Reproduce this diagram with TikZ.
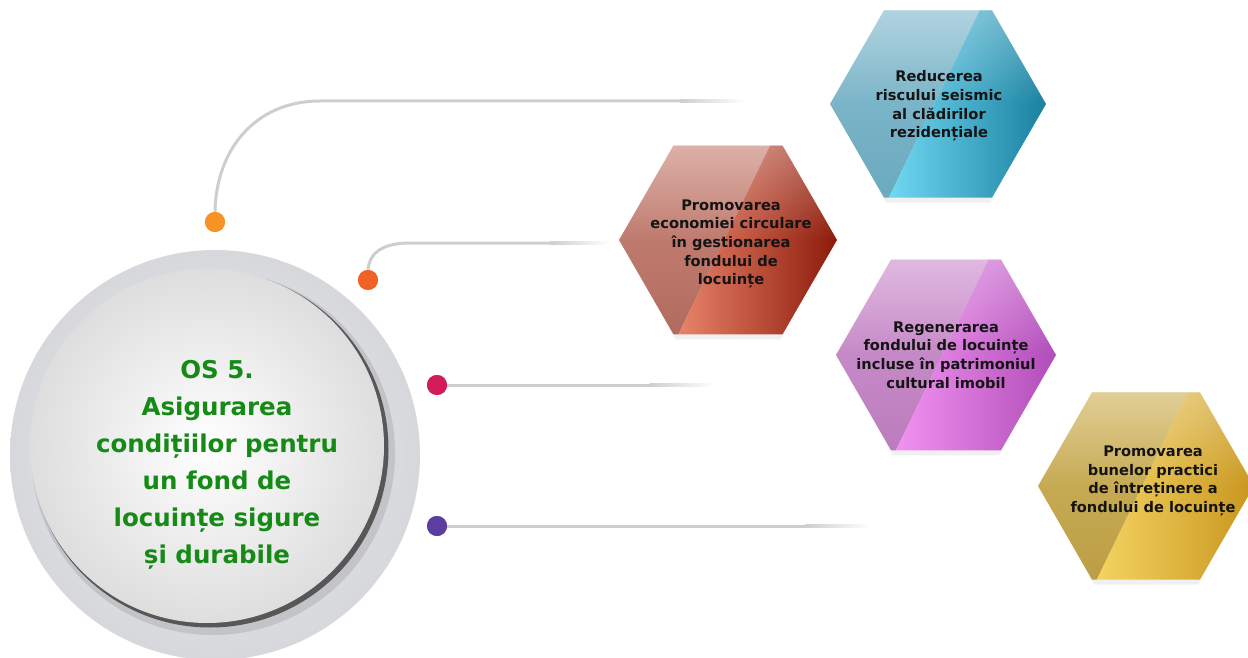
\documentclass[tikz,border=0pt]{standalone}
\usepackage{fontspec}
\setmainfont{DejaVu Sans}
\usetikzlibrary{fadings}
\definecolor{osgreen}{RGB}{22,138,22}
\definecolor{lineclr}{RGB}{206,206,206}
\definecolor{dotA}{RGB}{247,146,36}
\definecolor{dotB}{RGB}{240,98,38}
\definecolor{dotC}{RGB}{210,28,88}
\definecolor{dotD}{RGB}{92,62,160}
\definecolor{ringin}{RGB}{234,235,238}
\definecolor{ringout}{RGB}{214,216,220}
% hexagon colours
\definecolor{bLt}{RGB}{140,192,210}\definecolor{bLb}{RGB}{104,168,190}
\definecolor{bRl}{RGB}{116,220,245}\definecolor{bRr}{RGB}{26,128,160}
\definecolor{sLt}{RGB}{206,140,128}\definecolor{sLb}{RGB}{176,104,92}
\definecolor{sRl}{RGB}{236,136,110}\definecolor{sRr}{RGB}{140,26,10}
\definecolor{pLt}{RGB}{210,152,210}\definecolor{pLb}{RGB}{186,122,188}
\definecolor{pRl}{RGB}{244,150,244}\definecolor{pRr}{RGB}{176,76,184}
\definecolor{gLt}{RGB}{210,184,100}\definecolor{gLb}{RGB}{186,156,66}
\definecolor{gRl}{RGB}{246,214,100}\definecolor{gRr}{RGB}{200,150,30}
\tikzfading[name=glossfade, top color=transparent!62, bottom color=transparent!100]
\tikzset{
  dot/.style={circle, minimum size=20pt, inner sep=0pt, draw=none},
  conn/.style={draw=lineclr, line width=3pt, line cap=butt},
  centertext/.style={align=center, text=osgreen, font=\bfseries\fontsize{24.5}{37}\selectfont},
  hextext/.style={align=center, text=black!92, font=\bfseries\fontsize{14.6}{18.6}\selectfont, inner sep=0pt}
}
% #1 cx  #2 cy  #3 R  #4..#7 colours
\newcommand\myhexagon[7]{%
  \begin{scope}[shift={(#1,#2)}]
    \fill[black, opacity=.06] (-#3+4,3) -- (-#3/2+3,-0.866*#3+3) -- (#3/2-3,-0.866*#3+3) -- (#3-4,3) -- (#3/2-2,0.866*#3+5) -- (-#3/2+2,0.866*#3+5) -- cycle;
    \begin{scope}
      \clip (-#3,0) -- (-#3/2,-0.866*#3) -- (#3/2,-0.866*#3) -- (#3,0) -- (#3/2,0.866*#3) -- (-#3/2,0.866*#3) -- cycle;
      \shade[top color=#4, bottom color=#5] (-#3-1,-#3) -- (0.45*#3,-#3) -- (-0.52*#3,#3) -- (-#3-1,#3) -- cycle;
      \shade[left color=#6, middle color=#6!80!#7, right color=#7] (0.45*#3,-#3) -- (#3+1,-#3) -- (#3+1,#3) -- (-0.52*#3,#3) -- cycle;
      \fill[white, path fading=glossfade] (-#3,-#3) rectangle (#3,0);
    \end{scope}
  \end{scope}}
\begin{document}
\begin{tikzpicture}[x=1pt,y=-1pt]
\useasboundingbox (0,0) rectangle (1248,658);
\fill[white] (0,0) rectangle (1248,658);

% ---- central disc ----
\shade[inner color=ringin, outer color=ringout] (215,455) circle (205);
\fill[black, opacity=.10] (213,453) circle (182);
\fill[black!66] (210,449) circle (178.5);
\shade[inner color=white, outer color=black!13] (207,446) circle (177);
\node[centertext] (os) at (217,465) {OS 5.\\Asigurarea\\condițiilor pentru\\un fond de\\locuințe sigure\\și durabile};

% ---- hexagons ----
\myhexagon{938}{104}{108}{bLt}{bLb}{bRl}{bRr}
\myhexagon{728}{240}{109}{sLt}{sLb}{sRl}{sRr}
\myhexagon{946}{355}{110}{pLt}{pLb}{pRl}{pRr}
\myhexagon{1146}{486}{108}{gLt}{gLb}{gRl}{gRr}

\node[hextext] (h1) at (939,106) {Reducerea\\riscului seismic\\al clădirilor\\rezidențiale};
\node[hextext] (h2) at (731,244) {Promovarea\\economiei circulare\\în gestionarea\\fondului de\\locuințe};
\node[hextext] (h3) at (946,355) {Regenerarea\\fondului de locuințe\\incluse în patrimoniul\\cultural imobil};
\node[hextext] (h4) at (1153,481) {Promovarea\\bunelor practici\\de întreținere a\\fondului de locuințe};

% ---- connectors ----
\node[dot, fill=dotA] (d1) at (215,222) {};
\node[dot, fill=dotB] (d2) at (368,280) {};
\node[dot, fill=dotC] (d3) at (437,385) {};
\node[dot, fill=dotD] (d4) at (437,526) {};

\coordinate (k1) at (320,101); \coordinate (f1) at (680,101); \coordinate (e1) at (745,101);
\coordinate (k2) at (410,243); \coordinate (f2) at (550,243); \coordinate (e2) at (610,243);
\coordinate (f3) at (650,385); \coordinate (e3) at (715,385);
\coordinate (f4) at (805,526); \coordinate (e4) at (870,526);

\draw[conn] (d1.north) .. controls (216,150) and (255,101) .. (k1) -- (f1);
\shade[left color=lineclr, right color=white] ([yshift=-1.5pt]f1) rectangle ([yshift=1.5pt]e1);
\draw[conn] (d2.north) .. controls (369,255) and (380,243) .. (k2) -- (f2);
\shade[left color=lineclr, right color=white] ([yshift=-1.5pt]f2) rectangle ([yshift=1.5pt]e2);
\draw[conn] (d3.east) -- (f3);
\shade[left color=lineclr, right color=white] ([yshift=-1.5pt]f3) rectangle ([yshift=1.5pt]e3);
\draw[conn] (d4.east) -- (f4);
\shade[left color=lineclr, right color=white] ([yshift=-1.5pt]f4) rectangle ([yshift=1.5pt]e4);
% dots on top of lines
\node[dot, fill=dotA] at (d1) {};
\node[dot, fill=dotB] at (d2) {};
\node[dot, fill=dotC] at (d3) {};
\node[dot, fill=dotD] at (d4) {};
\end{tikzpicture}
\end{document}
